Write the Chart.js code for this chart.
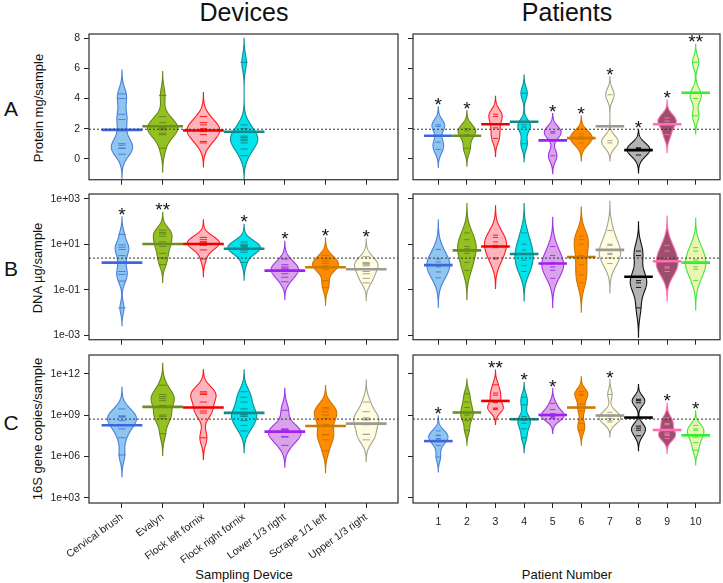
<!DOCTYPE html>
<html>
<head>
<meta charset="utf-8">
<script src="https://cdn.jsdelivr.net/npm/chart.js@4.4.0/dist/chart.umd.min.js"></script>
<style>
  body { margin: 0; background: #fff; }
  #fig { position: relative; width: 723px; height: 583px; overflow: hidden; font-family: "Liberation Sans", Arial, sans-serif; color: #111; }
  #fig canvas { position: absolute; }
  .t { position: absolute; white-space: nowrap; line-height: 1; transform: translate(-50%, -50%); }
  .v { transform: translate(-50%, -50%) rotate(-90deg); }
</style>
</head>
<body>
<div id="fig">
  <div class="t" style="left:244px;top:12px;font-size:25px">Devices</div>
  <div class="t" style="left:567px;top:12px;font-size:25px">Patients</div>
  <div class="t" style="left:11px;top:108px;font-size:21px">A</div>
  <div class="t" style="left:11px;top:268px;font-size:21px">B</div>
  <div class="t" style="left:11px;top:422px;font-size:21px">C</div>
  <div class="t v" style="left:38px;top:108px;font-size:13px">Protein mg/sample</div>
  <div class="t v" style="left:37px;top:268px;font-size:13px">DNA µg/sample</div>
  <div class="t v" style="left:37px;top:429px;font-size:13px">16S gene copies/sample</div>
  <div class="t" style="left:244px;top:574px;font-size:13px">Sampling Device</div>
  <div class="t" style="left:567px;top:574px;font-size:13px">Patient Number</div>
</div>
<script>
'use strict'
{
  const devices = ['Cervical brush', 'Evalyn', 'Flock left fornix', 'Flock right fornix', 'Lower 1/3 right', 'Scrape 1/1 left', 'Upper 1/3 right'];
  const patients = ['1', '2', '3', '4', '5', '6', '7', '8', '9', '10'];

  // A: protein mg/sample (only the first four devices were measured)
  const proteinByDevice = [
    [4.3, 4.0, 2.95, 2.6, 1.85, 1.0, 0.9, 0.7, 0.7, 0.3],
    [4.2, 2.8, 2.4, 2.2, 2.1, 2.0, 1.9, 1.7, 1.6, 0.7],
    [2.8, 2.4, 2.25, 2.0, 1.9, 1.85, 1.8, 1.6, 1.15, 1.05],
    [6.4, 2.25, 2.0, 1.5, 1.4, 1.3, 1.2, 1.05, 0.65, 0.2],
  ];
  const proteinDeviceMean = [1.92, 2.16, 1.88, 1.79];
  const proteinByPatient = [
    [2.25, 2.15, 1.1, 0.62],
    [2.0, 1.85, 1.6, 0.7],
    [2.95, 2.8, 2.05, 1.35],
    [4.35, 2.25, 2.1, 1.0],
    [1.8, 1.7, 0.2],
    [1.65, 1.5, 1.3, 1.05],
    [4.25, 1.2, 1.05],
    [0.72, 0.7, 0.65, 0.25],
    [2.7, 2.5, 2.35, 1.6],
    [6.4, 4.4, 4.0, 2.85],
  ];
  const proteinPatientMean = [1.53, 1.53, 2.29, 2.46, 1.22, 1.37, 2.16, 0.57, 2.29, 4.38];
  const proteinPatientStars = ['*', '*', '', '', '*', '*', '*', '*', '*', '**'];
  const proteinOverall = 1.96;
  const proteinTicks = [0, 2, 4, 6, 8];
  const proteinTickLabels = ['0', '2', '4', '6', '8'];

  // B: DNA µg/sample, stored as log10
  const dnaByDevice = [
    [1.43, 0.97, 0.87, 0.77, 0.5, 0.17, -0.2, -0.33, -0.62, -1.8],
    [1.62, 1.52, 1.45, 1.35, 1.1, 1.0, 0.9, 0.6, 0.4, 0.1],
    [1.3, 1.2, 1.1, 1.1, 1.05, 1.02, 1.0, 0.95, 0.75, 0.35],
    [1.1, 1.0, 0.95, 0.9, 0.85, 0.8, 0.75, 0.75, 0.65, 0.2],
    [0.35, 0.1, 0.0, -0.05, -0.1, -0.2, -0.3, -0.45, -0.65],
    [0.5, 0.35, 0.25, 0.15, 0.05, 0.0, -0.1, 0.0, -0.6, -0.9],
    [0.45, 0.2, 0.15, 0.1, 0.05, -0.2, -0.3, -0.5, -0.7],
  ];
  const dnaDeviceMean = [0.19, 1.01, 1.01, 0.8, -0.16, -0.01, -0.1];
  const dnaDeviceStars = ['*', '**', '', '*', '*', '*', '*'];
  const dnaByPatient = [
    [0.77, 0.35, 0.22, 0.1, 0.0, -0.22, -0.48],
    [1.5, 1.2, 0.9, 0.8, 0.6, 0.2, -0.15],
    [1.4, 1.3, 1.1, 0.95, 0.85, 0.4, 0.35],
    [1.5, 1.0, 0.75, 0.55, 0.3, 0.05, -0.2],
    [0.9, 0.5, 0.2, 0.15, 0.0, -0.15, -0.5],
    [1.35, 1.2, 1.0, 0.5, 0.1, -0.35, -0.7],
    [1.6, 1.0, 0.95, 0.6, 0.55, 0.4, 0.15],
    [0.7, 0.5, -0.45, -0.6, -0.7, -0.9, -1.8],
    [0.95, 0.7, 0.4, 0.25, 0.0, -0.05, -0.2],
    [0.85, 0.7, 0.3, 0.15, 0.0, -0.1, -0.6],
  ];
  const dnaPatientMean = [0.08, 0.73, 0.9, 0.57, 0.15, 0.44, 0.75, -0.43, 0.25, 0.19];
  const dnaOverall = 0.39;
  const dnaTicks = [1e-3, 1e-1, 1e1, 1e3];
  const dnaTickLabels = ['1e-03', '1e-01', '1e+01', '1e+03'];

  // C: 16S gene copies/sample, stored as log10
  const copiesByDevice = [
    [9.45, 8.95, 8.9, 8.85, 8.6, 8.3, 8.0, 7.35, 6.1],
    [11.17, 10.5, 10.35, 10.2, 10.05, 9.7, 9.0, 8.9, 8.75, 7.65],
    [10.7, 10.6, 10.5, 9.95, 9.3, 9.15, 7.35],
    [10.7, 10.3, 9.95, 9.45, 9.05, 9.0, 8.9, 8.6, 8.25, 7.85],
    [9.35, 8.0, 7.95, 7.9, 7.45, 7.4, 6.8],
    [9.55, 9.45, 9.25, 9.0, 8.75, 8.3, 7.6, 7.55, 7.2, 6.4],
    [9.95, 9.25, 8.8, 8.7, 8.65, 8.3, 7.6, 7.6, 7.2],
  ];
  const copiesDeviceMean = [8.26, 9.6, 9.55, 9.16, 7.8, 8.21, 8.38];
  const copiesByPatient = [
    [7.85, 7.55, 7.5, 7.3, 7.2, 6.8, 5.95],
    [10.55, 9.95, 9.55, 9.15, 9.0, 8.6, 7.9],
    [11.2, 10.6, 10.45, 9.9, 9.5, 9.5, 9.4],
    [10.3, 9.75, 8.9, 8.6, 8.4, 8.0, 7.35],
    [9.85, 9.4, 9.1, 9.0, 8.9, 8.85, 8.75],
    [10.7, 10.45, 10.5, 9.8, 9.3, 8.4, 7.9],
    [10.5, 9.2, 9.0, 8.9, 8.75, 8.6, 8.5],
    [10.15, 10.05, 9.9, 8.2, 8.05, 7.9, 7.5],
    [8.8, 8.4, 8.3, 7.7, 7.6, 7.5, 7.3],
    [8.25, 8.0, 7.9, 7.6, 7.4, 7.0, 6.45],
  ];
  const copiesPatientMean = [7.11, 9.19, 10.03, 8.7, 9.01, 9.55, 8.97, 8.82, 7.92, 7.53];
  const copiesPatientStars = ['*', '', '**', '*', '*', '', '*', '', '*', '*'];
  const copiesOverall = 8.71;
  const copiesTicks = [1e3, 1e6, 1e9, 1e12];
  const copiesTickLabels = ['1e+03', '1e+06', '1e+09', '1e+12'];

  const palette = [
    { fill: '#8ec6f0', edge: '#4a7fd8', mean: '#3f67dd' },
    { fill: '#94c11f', edge: '#66871f', mean: '#6b8e23' },
    { fill: '#ffb3bd', edge: '#ff1a1a', mean: '#ee0000' },
    { fill: '#00e3ec', edge: '#138c8f', mean: '#128a8a' },
    { fill: '#d9a3ea', edge: '#a133ea', mean: '#a020f0' },
    { fill: '#ff8c00', edge: '#cc7400', mean: '#cc7a00' },
    { fill: '#fffce0', edge: '#a3a392', mean: '#9a9a90' },
    { fill: '#b3b3b3', edge: '#111111', mean: '#000000' },
    { fill: '#9c4f6b', edge: '#ff6eb4', mean: '#ff6eb4' },
    { fill: '#ecf5b0', edge: '#3ee63e', mean: '#33ee33' },
  ];

  const fig = document.getElementById('fig');
  const tickFont = { family: "'Liberation Sans', Arial, sans-serif", size: 10.5 };

  // gaussian density of one bean, tails cut at 3 bandwidths
  function density(obs, bw) {
    const lo = Math.min(...obs) - 3 * bw, hi = Math.max(...obs) + 3 * bw;
    const pts = [];
    for (let k = 0; k <= 150; k++) {
      const v = lo + (hi - lo) * k / 150;
      let d = 0;
      obs.forEach(o => { const z = (v - o) / bw; d += Math.exp(-0.5 * z * z); });
      pts.push([v, d / (obs.length * bw * Math.sqrt(2 * Math.PI))]);
    }
    return pts;
  }

  function beanPlugin(p, toY) {
    return {
      id: 'beans',
      beforeDatasetsDraw(chart) {
        const { ctx, chartArea: a, scales: { x, y } } = chart;
        const shapes = p.obs.map(o => density(o, p.bw));
        const peak = Math.max(...shapes.map(s => Math.max(...s.map(q => q[1]))));
        const k = 0.4 / peak;
        ctx.save();
        ctx.beginPath();
        ctx.rect(a.left, a.top, a.right - a.left, a.bottom - a.top);
        ctx.clip();
        shapes.forEach((s, i) => {
          ctx.beginPath();
          s.forEach(([v, d], j) => {
            const px = x.getPixelForValue(i - d * k), py = y.getPixelForValue(toY(v));
            j ? ctx.lineTo(px, py) : ctx.moveTo(px, py);
          });
          for (let j = s.length - 1; j >= 0; j--) {
            ctx.lineTo(x.getPixelForValue(i + s[j][1] * k), y.getPixelForValue(toY(s[j][0])));
          }
          ctx.closePath();
          ctx.fillStyle = palette[i].fill;
          ctx.fill();
          ctx.lineWidth = 1.1;
          ctx.strokeStyle = palette[i].edge;
          ctx.stroke();
        });
        ctx.restore();
      },
      afterDraw(chart) {
        const { ctx, chartArea: a, scales: { x, y } } = chart;
        ctx.save();
        if (p.stars) {
          ctx.fillStyle = '#111';
          ctx.font = "19px 'Liberation Sans', Arial, sans-serif";
          ctx.textAlign = 'center';
          ctx.textBaseline = 'alphabetic';
          p.stars.forEach((st, i) => {
            if (!st) return;
            const tip = y.getPixelForValue(toY(Math.max(...p.obs[i]) + 3 * p.bw));
            ctx.fillText(st, x.getPixelForValue(i), tip + 4);
          });
        }
        ctx.lineWidth = 1.3;
        ctx.strokeStyle = '#3c3c3c';
        ctx.strokeRect(a.left, a.top, a.right - a.left, a.bottom - a.top);
        ctx.restore();
      },
    };
  }

  function panel(p) {
    const cv = document.createElement('canvas');
    const left = p.col ? 403 : 0, width = p.col ? 320 : 400;
    const axisH = p.xLabels ? 80 : 8;
    const height = 12 + 148 + axisH;
    cv.width = width;
    cv.height = height;
    Object.assign(cv.style, { left: left + 'px', top: (p.top - 12) + 'px', width: width + 'px', height: height + 'px' });
    fig.appendChild(cv);

    const toY = p.log ? v => Math.pow(10, v) : v => v;
    const xMin = p.col ? -0.885 : -0.81, xMax = p.col ? 9.85 : 6.78;
    const beanLines = [], beanColors = [];
    p.obs.forEach((o, i) => o.forEach(v => { beanLines.push({ x: i, y: toY(v) }); beanColors.push(palette[i].edge); }));
    const means = p.means.map((m, i) => ({ x: i, y: toY(m) }));
    const unit = c => { const s = c.chart.scales.x; return s.getPixelForValue(1) - s.getPixelForValue(0); };

    new Chart(cv, {
      type: 'scatter',
      data: {
        datasets: [
          { type: 'line', data: [{ x: xMin, y: toY(p.overall) }, { x: xMax, y: toY(p.overall) }],
            borderColor: '#333', borderWidth: 1, borderDash: [2, 2], pointRadius: 0 },
          { data: means, pointStyle: 'line', pointRadius: c => unit(c) * 0.5, pointBorderWidth: 2.6,
            pointBorderColor: p.means.map((m, i) => palette[i].mean) },
          { data: beanLines, pointStyle: 'line', pointRadius: c => unit(c) * 0.09, pointBorderWidth: 1,
            pointBorderColor: beanColors },
        ],
      },
      options: {
        responsive: false,
        animation: false,
        events: [],
        layout: { padding: { top: 12, left: 0, right: p.col ? 3 : 2, bottom: 0 } },
        plugins: { legend: { display: false }, tooltip: { enabled: false } },
        scales: {
          x: {
            type: 'linear', min: xMin, max: xMax, bounds: 'data',
            afterBuildTicks: s => { s.ticks = p.names.map((n, i) => ({ value: i })); },
            afterFit: s => { s.height = axisH; },
            ticks: {
              callback: (v, i) => p.xLabels ? p.names[i] : '',
              autoSkip: false, minRotation: p.col ? 0 : 36, maxRotation: p.col ? 0 : 36,
              padding: p.col ? 8 : 3, font: tickFont, color: '#222',
            },
            grid: { drawOnChartArea: false, tickLength: 5, color: '#222' },
            border: { display: false },
          },
          y: {
            type: p.log ? 'logarithmic' : 'linear', min: p.yMin, max: p.yMax, bounds: 'data',
            afterBuildTicks: s => { s.ticks = p.ticks.map(v => ({ value: v })); },
            afterFit: s => { s.width = p.col ? 10 : 89; },
            ticks: { callback: (v, i) => p.col ? '' : p.tickLabels[i], padding: 4, font: tickFont, color: '#222' },
            grid: { drawOnChartArea: false, tickLength: 5, color: '#222' },
            border: { display: false },
          },
        },
      },
      plugins: [beanPlugin(p, toY)],
    });
  }

  const rowA = { top: 34, log: false, yMin: -1.39, yMax: 8.28, ticks: proteinTicks, tickLabels: proteinTickLabels, overall: proteinOverall };
  const rowB = { top: 194, log: true, yMin: Math.pow(10, -3.2), yMax: Math.pow(10, 3.21), ticks: dnaTicks, tickLabels: dnaTickLabels, overall: dnaOverall };
  const rowC = { top: 355, log: true, yMin: Math.pow(10, 2.61), yMax: Math.pow(10, 13.37), ticks: copiesTicks, tickLabels: copiesTickLabels, overall: copiesOverall, xLabels: true };

  panel({ ...rowA, col: 0, names: devices, obs: proteinByDevice, means: proteinDeviceMean, bw: 0.53 });
  panel({ ...rowA, col: 1, names: patients, obs: proteinByPatient, means: proteinPatientMean, bw: 0.4, stars: proteinPatientStars });
  panel({ ...rowB, col: 0, names: devices, obs: dnaByDevice, means: dnaDeviceMean, bw: 0.26, stars: dnaDeviceStars });
  panel({ ...rowB, col: 1, names: patients, obs: dnaByPatient, means: dnaPatientMean, bw: 0.43 });
  panel({ ...rowC, col: 0, names: devices, obs: copiesByDevice, means: copiesDeviceMean, bw: 0.53 });
  panel({ ...rowC, col: 1, names: patients, obs: copiesByPatient, means: copiesPatientMean, bw: 0.36, stars: copiesPatientStars });
}
</script>
</body>
</html>
